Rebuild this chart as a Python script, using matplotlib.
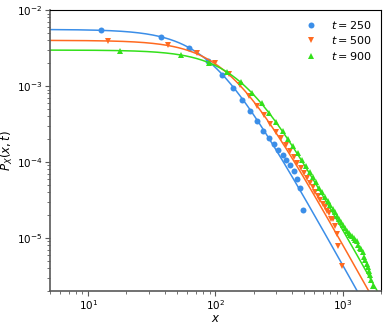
import numpy as np
import matplotlib
matplotlib.use("Agg")
import matplotlib.pyplot as plt

# binned data
x_250 = [12.5, 37.5, 62.5, 87.5, 112.5, 137.5, 162.5, 187.5, 212.5, 237.5,
         262.5, 287.5, 312.5, 337.5, 362.5, 387.5, 412.5, 437.5, 462.5, 487.5]
p_250 = [5.46e-3, 4.46e-3, 3.16e-3, 2.11e-3, 1.38e-3, 9.5e-4, 6.6e-4, 4.7e-4, 3.46e-4, 2.55e-4,
         2.07e-4, 1.75e-4, 1.46e-4, 1.25e-4, 1.07e-4, 9.2e-5, 7.7e-5, 6.0e-5, 4.6e-5, 2.3e-5]

x_500 = [14.25, 42.75, 71.25, 99.75, 128.25, 156.75, 185.25, 213.75, 242.25, 270.75,
         299.25, 327.75, 356.25, 384.75, 413.25, 441.75, 470.25, 498.75, 527.25, 555.75,
         584.25, 612.75, 641.25, 669.75, 698.25, 726.75, 755.25, 783.75, 812.25, 840.75,
         869.25, 897.75, 926.25, 983.25]
p_500 = [3.95e-3, 3.45e-3, 2.70e-3, 2.00e-3, 1.44e-3, 1.03e-3, 7.4e-4, 5.5e-4, 4.15e-4, 3.2e-4,
         2.52e-4, 2.05e-4, 1.68e-4, 1.40e-4, 1.17e-4, 9.8e-5, 8.4e-5, 7.1e-5, 6.2e-5, 5.3e-5,
         4.7e-5, 4.0e-5, 3.6e-5, 3.2e-5, 2.8e-5, 2.55e-5, 2.25e-5, 2.1e-5, 1.8e-5, 1.75e-5,
         1.45e-5, 1.13e-5, 7.9e-6, 4.3e-6]

x_900 = [17.75, 53.25, 88.75, 124.25, 159.75, 195.25, 230.75, 266.25, 301.75, 337.25,
         372.75, 408.25, 443.75, 479.25, 514.75, 550.25, 585.75, 621.25, 656.75, 692.25,
         727.75, 763.25, 798.75, 834.25, 869.75, 905.25, 940.75, 976.25, 1011.75, 1047.25,
         1082.75, 1118.25, 1153.75, 1189.25, 1224.75, 1260.25, 1295.75, 1331.25, 1366.75, 1402.25,
         1437.75, 1473.25, 1508.75, 1544.25, 1579.75, 1615.25, 1650.75, 1686.25, 1721.75]
p_900 = [2.93e-3, 2.57e-3, 2.04e-3, 1.54e-3, 1.12e-3, 8.1e-4, 6.0e-4, 4.45e-4, 3.35e-4, 2.6e-4,
         2.03e-4, 1.62e-4, 1.31e-4, 1.07e-4, 8.9e-5, 7.4e-5, 6.3e-5, 5.4e-5, 4.6e-5, 4.0e-5,
         3.5e-5, 3.1e-5, 2.75e-5, 2.4e-5, 2.2e-5, 1.95e-5, 1.78e-5, 1.6e-5, 1.48e-5, 1.35e-5,
         1.25e-5, 1.15e-5, 1.1e-5, 1.05e-5, 1.0e-5, 9.4e-6, 9.0e-6, 8.0e-6, 7.4e-6, 7.2e-6,
         6.6e-6, 5.6e-6, 5.2e-6, 4.6e-6, 4.1e-6, 3.7e-6, 3.3e-6, 2.8e-6, 2.3e-6]

# fit curves: P = A * (1 + (x/x0)^2)^(-3/2)
fit_A = [5.57e-3, 4.0e-3, 2.98e-3]
fit_x0 = [93.0, 128.0, 165.0]

times = [250, 500, 900]
colors = ['#3b8ee8', '#ff6a20', '#33e01a']
markers = ['o', 'v', '^']
xs = [x_250, x_500, x_900]
ps = [p_250, p_500, p_900]

fig = plt.figure(figsize=(3.87, 3.27), dpi=100)
ax = fig.add_axes([0.129, 0.110, 0.855, 0.859])

xx = np.logspace(np.log10(5), np.log10(2000), 400)
for t, c, m, x, p, A, x0 in zip(times, colors, markers, xs, ps, fit_A, fit_x0):
    ax.plot(x, p, m, color=c, ms=4.3, mew=0, label=f'$t = {t}$')
    ax.plot(xx, A * (1 + (xx / x0) ** 2) ** -1.5, '-', color=c, lw=1.1)

ax.set_xscale('log')
ax.set_yscale('log')
ax.set_xlim(5, 2000)
ax.set_ylim(2e-6, 1e-2)
ax.set_xlabel('$x$', fontsize=8.5, labelpad=0)
ax.set_ylabel('$P_X(x, t)$', fontsize=8.5, labelpad=1)
ax.tick_params(labelsize=7.5, pad=2)
for side in ['left', 'bottom']:
    ax.spines[side].set_color('0.35')
    ax.spines[side].set_linewidth(1.2)
ax.tick_params(colors='0.35', labelcolor='black', which='both')

ax.legend(loc='upper right', frameon=False, fontsize=8, handletextpad=1.0,
          borderaxespad=0.4, labelspacing=0.3, handlelength=1.6)

fig.savefig('out.png', dpi=100)
